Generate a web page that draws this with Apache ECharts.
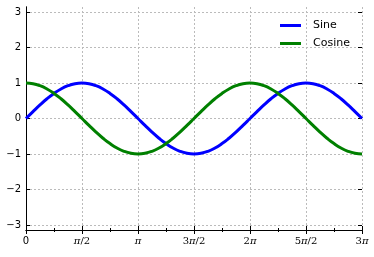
<!DOCTYPE html>
<html>
<head>
<meta charset="utf-8">
<script src="https://cdn.jsdelivr.net/npm/echarts@6/dist/echarts.min.js"></script>
<style>
html,body{margin:0;padding:0;background:#fff;}
#c{width:374px;height:257px;}
</style>
</head>
<body>
<div id="c"></div>
<script>
// x positions in units of pi
var xPi = [0,0.0625,0.125,0.1875,0.25,0.3125,0.375,0.4375,0.5,0.5625,0.625,0.6875,0.75,0.8125,0.875,0.9375,
  1,1.0625,1.125,1.1875,1.25,1.3125,1.375,1.4375,1.5,1.5625,1.625,1.6875,1.75,1.8125,1.875,1.9375,
  2,2.0625,2.125,2.1875,2.25,2.3125,2.375,2.4375,2.5,2.5625,2.625,2.6875,2.75,2.8125,2.875,2.9375,3];
var sineValues = [0,0.195,0.383,0.556,0.707,0.831,0.924,0.981,1,0.981,0.924,0.831,0.707,0.556,0.383,0.195,
  0,-0.195,-0.383,-0.556,-0.707,-0.831,-0.924,-0.981,-1,-0.981,-0.924,-0.831,-0.707,-0.556,-0.383,-0.195,
  0,0.195,0.383,0.556,0.707,0.831,0.924,0.981,1,0.981,0.924,0.831,0.707,0.556,0.383,0.195,0];
var cosineValues = [1,0.981,0.924,0.831,0.707,0.556,0.383,0.195,0,-0.195,-0.383,-0.556,-0.707,-0.831,-0.924,-0.981,
  -1,-0.981,-0.924,-0.831,-0.707,-0.556,-0.383,-0.195,0,0.195,0.383,0.556,0.707,0.831,0.924,0.981,
  1,0.981,0.924,0.831,0.707,0.556,0.383,0.195,0,-0.195,-0.383,-0.556,-0.707,-0.831,-0.924,-0.981,-1];
var xTickLabels = ['{s|0}', '{p|π}{n|/2}', '{p|π}', '{n|3}{p|π}{n|/2}', '{n|2}{p|π}', '{n|5}{p|π}{n|/2}', '{n|3}{p|π}'];
var yTickValues = [-3,-2,-1,0,1,2,3];

var sinePts = xPi.map(function(x,i){return [x, sineValues[i]];});
var cosPts = xPi.map(function(x,i){return [x, cosineValues[i]];});

var gridLine = {show:true, lineStyle:{color:'#bbbbbb', type:[2,2], width:1}};
var black = '#000';
var chart = echarts.init(document.getElementById('c'), null, {renderer:'canvas'});
chart.setOption({
  animation:false,
  backgroundColor:'#ffffff',
  grid:[
    {left:26, right:12, top:7, bottom:27, containLabel:false},
    {left:26, right:12, top:12, bottom:32, containLabel:false}
  ],
  legend:{
    left:275, top:15, orient:'vertical', icon:'rect', itemWidth:21, itemHeight:3, itemGap:7,
    textStyle:{fontFamily:'DejaVu Sans', fontSize:11, color:'#000', padding:[0,0,0,7]},
    data:['Sine','Cosine']
  },
  xAxis:[
    {gridIndex:0, type:'value', position:'bottom', min:0, max:3, interval:0.5,
     axisLine:{show:true, lineStyle:{color:black, width:1}},
     axisTick:{show:true, inside:true, length:4, lineStyle:{color:black}},
     minorTick:{show:true, splitNumber:2, length:2, lineStyle:{color:black}},
     splitLine:gridLine,
     axisLabel:{margin:6, color:'#000',
       formatter:function(v){return xTickLabels[Math.round(v*2)];},
       rich:{
         s:{fontFamily:'DejaVu Sans', fontSize:10, color:'#000', padding:[0,0,4,0]},
         p:{fontFamily:'DejaVu Serif', fontStyle:'italic', fontSize:10, color:'#000'},
         n:{fontFamily:'DejaVu Serif', fontSize:10, color:'#000'}
       }}},
    {gridIndex:0, type:'value', position:'top', min:0, max:3, interval:0.5,
     axisLine:{show:true, lineStyle:{color:black, width:1}},
     axisTick:{show:true, inside:true, length:4, lineStyle:{color:black}},
     minorTick:{show:true, splitNumber:2, length:2, lineStyle:{color:black}},
     splitLine:{show:false}, axisLabel:{show:false}},
    {gridIndex:1, type:'value', min:0, max:3, show:false}
  ],
  yAxis:[
    {gridIndex:0, type:'value', position:'left', min:0, max:1,
     axisLine:{show:true, lineStyle:{color:black, width:1}},
     axisTick:{show:false}, splitLine:{show:false}, axisLabel:{show:false}},
    {gridIndex:0, type:'value', position:'right', min:0, max:1,
     axisLine:{show:true, lineStyle:{color:black, width:1}},
     axisTick:{show:false}, splitLine:{show:false}, axisLabel:{show:false}},
    {gridIndex:1, type:'value', position:'left', min:yTickValues[0], max:yTickValues[yTickValues.length-1], interval:1,
     axisLine:{show:false},
     axisTick:{show:true, inside:true, length:4, lineStyle:{color:black}},
     splitLine:gridLine,
     axisLabel:{margin:5, fontFamily:'DejaVu Sans', fontSize:10, color:'#000',
       formatter:function(v){return String(v).replace('-', '\u2212');}}},
    {gridIndex:1, type:'value', position:'right', min:yTickValues[0], max:yTickValues[yTickValues.length-1], interval:1,
     axisLine:{show:false},
     axisTick:{show:true, inside:true, length:4, lineStyle:{color:black}},
     splitLine:{show:false}, axisLabel:{show:false}}
  ],
  series:[
    {name:'Sine', type:'line', xAxisIndex:2, yAxisIndex:2, data:sinePts, smooth:true,
     symbol:'none', lineStyle:{color:'#0000ff', width:3}, itemStyle:{color:'#0000ff'}},
    {name:'Cosine', type:'line', xAxisIndex:2, yAxisIndex:2, data:cosPts, smooth:true,
     symbol:'none', lineStyle:{color:'#008000', width:3}, itemStyle:{color:'#008000'}}
  ]
});
</script>
</body>
</html>
